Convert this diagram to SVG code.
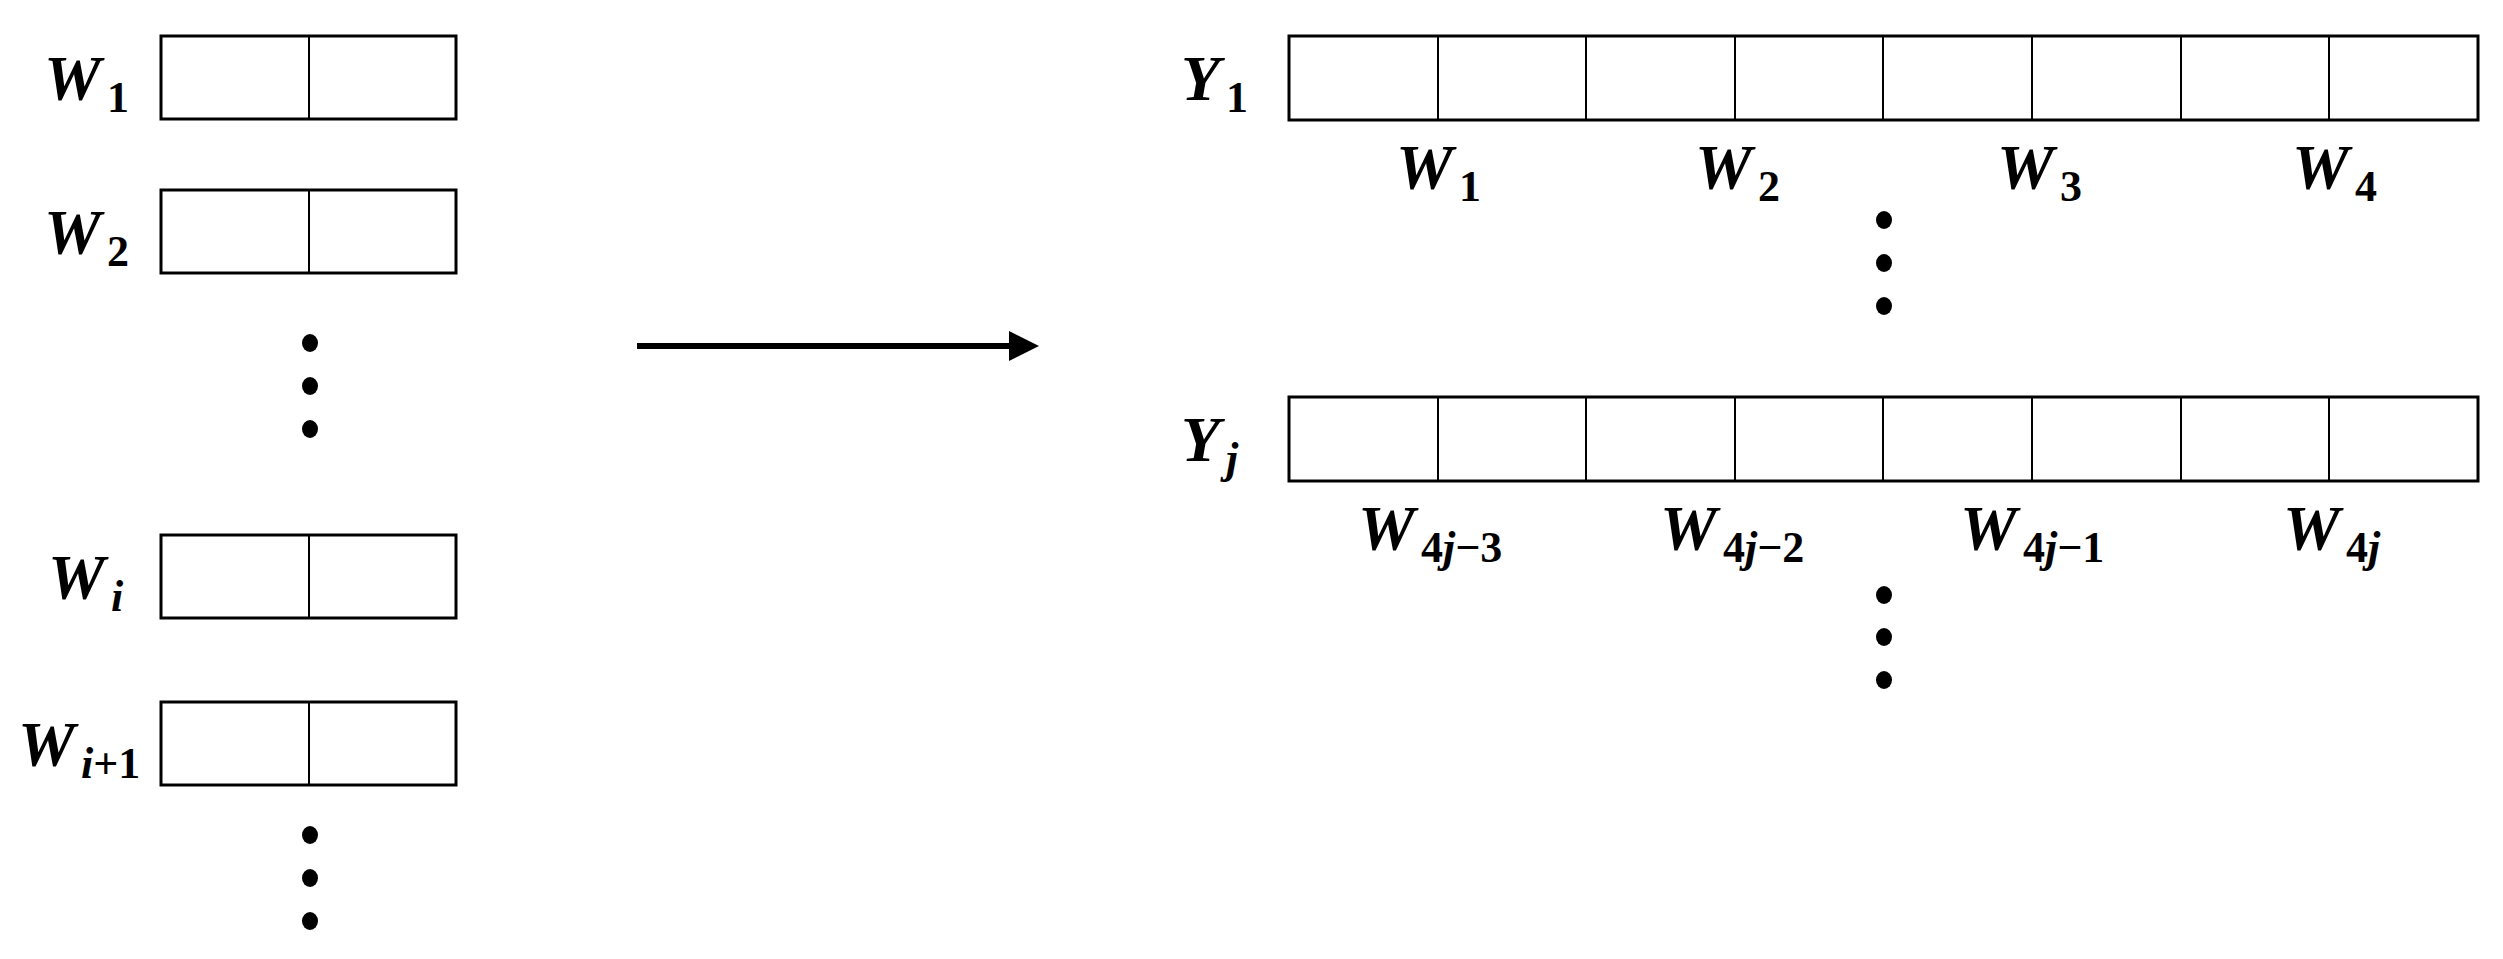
<svg xmlns="http://www.w3.org/2000/svg" width="2503" height="959" viewBox="0 0 2503 959">
<style>
.box{fill:#fff;stroke:#000;stroke-width:3}
.div{stroke:#000;stroke-width:2}
.t{font-family:"Liberation Serif",serif;font-weight:bold;font-style:italic;font-size:64px;fill:#000}
.s{font-size:44px}
.n{font-style:normal}
.dot{fill:#000}
</style>
<defs>
<marker id="ah" markerWidth="5" markerHeight="5" refX="0" refY="2.5" orient="auto" markerUnits="strokeWidth">
<path d="M0,0 L5,2.5 L0,5 Z" fill="#000"/>
</marker>
</defs>
<g id="w1"><rect class="box" x="161" y="36" width="295" height="83"/><line class="div" x1="309" y1="36" x2="309" y2="119"/>
<text class="t" x="44" y="100">W<tspan class="s n" dx="6" dy="12">1</tspan></text></g>
<g id="w2"><rect class="box" x="161" y="190" width="295" height="83"/><line class="div" x1="309" y1="190" x2="309" y2="273"/>
<text class="t" x="44" y="254">W<tspan class="s n" dx="6" dy="12">2</tspan></text></g>
<g id="wi"><rect class="box" x="161" y="535" width="295" height="83"/><line class="div" x1="309" y1="535" x2="309" y2="618"/>
<text class="t" x="48" y="599">W<tspan class="s" dx="6" dy="12">i</tspan></text></g>
<g id="wi1"><rect class="box" x="161" y="702" width="295" height="83"/><line class="div" x1="309" y1="702" x2="309" y2="785"/>
<text class="t" x="18" y="766">W<tspan class="s" dx="6" dy="12">i</tspan><tspan class="s n">+1</tspan></text></g>
<g id="leftdots">
<ellipse class="dot" cx="310" cy="343" rx="8" ry="9"/><ellipse class="dot" cx="310" cy="386" rx="8" ry="9"/><ellipse class="dot" cx="310" cy="429" rx="8" ry="9"/>
<ellipse class="dot" cx="310" cy="835" rx="8" ry="9"/><ellipse class="dot" cx="310" cy="878" rx="8" ry="9"/><ellipse class="dot" cx="310" cy="921" rx="8" ry="9"/>
</g>
<g id="connectors"><line x1="637" y1="346" x2="1009" y2="346" stroke="#000" stroke-width="6" marker-end="url(#ah)"/></g>
<g id="y1">
<rect class="box" x="1289" y="36" width="1189" height="84"/>
<g class="div"><line x1="1438" y1="36" x2="1438" y2="120"/><line x1="1586" y1="36" x2="1586" y2="120"/><line x1="1735" y1="36" x2="1735" y2="120"/><line x1="1883" y1="36" x2="1883" y2="120"/><line x1="2032" y1="36" x2="2032" y2="120"/><line x1="2181" y1="36" x2="2181" y2="120"/><line x1="2329" y1="36" x2="2329" y2="120"/></g>
<text class="t" x="1181" y="100">Y<tspan class="s n" dx="6" dy="12">1</tspan></text>
<text class="t" x="1396" y="189">W<tspan class="s n" dx="6" dy="12">1</tspan></text>
<text class="t" x="1695" y="189">W<tspan class="s n" dx="6" dy="12">2</tspan></text>
<text class="t" x="1997" y="189">W<tspan class="s n" dx="6" dy="12">3</tspan></text>
<text class="t" x="2292" y="189">W<tspan class="s n" dx="6" dy="12">4</tspan></text>
</g>
<g id="rightdots1"><ellipse class="dot" cx="1884" cy="220" rx="8" ry="9"/><ellipse class="dot" cx="1884" cy="263" rx="8" ry="9"/><ellipse class="dot" cx="1884" cy="306" rx="8" ry="9"/></g>
<g id="yj">
<rect class="box" x="1289" y="397" width="1189" height="84"/>
<g class="div"><line x1="1438" y1="397" x2="1438" y2="481"/><line x1="1586" y1="397" x2="1586" y2="481"/><line x1="1735" y1="397" x2="1735" y2="481"/><line x1="1883" y1="397" x2="1883" y2="481"/><line x1="2032" y1="397" x2="2032" y2="481"/><line x1="2181" y1="397" x2="2181" y2="481"/><line x1="2329" y1="397" x2="2329" y2="481"/></g>
<text class="t" x="1181" y="461">Y<tspan class="s" dx="6" dy="12">j</tspan></text>
<text class="t" x="1358" y="550">W<tspan class="s n" dx="6" dy="12">4</tspan><tspan class="s">j</tspan><tspan class="s n">−3</tspan></text>
<text class="t" x="1660" y="550">W<tspan class="s n" dx="6" dy="12">4</tspan><tspan class="s">j</tspan><tspan class="s n">−2</tspan></text>
<text class="t" x="1960" y="550">W<tspan class="s n" dx="6" dy="12">4</tspan><tspan class="s">j</tspan><tspan class="s n">−1</tspan></text>
<text class="t" x="2283" y="550">W<tspan class="s n" dx="6" dy="12">4</tspan><tspan class="s">j</tspan></text>
</g>
<g id="rightdots2"><ellipse class="dot" cx="1884" cy="595" rx="8" ry="9"/><ellipse class="dot" cx="1884" cy="637" rx="8" ry="9"/><ellipse class="dot" cx="1884" cy="680" rx="8" ry="9"/></g>
</svg>
